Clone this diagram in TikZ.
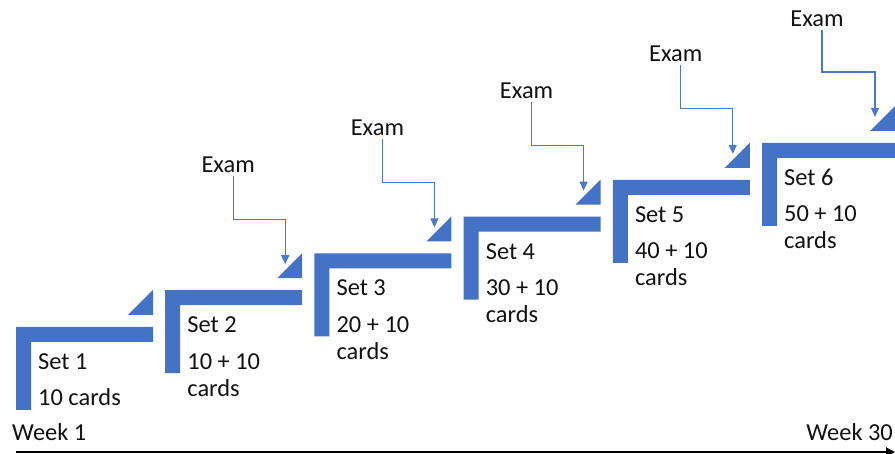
\documentclass[tikz,border=0pt]{standalone}
\usepackage{fontspec}
\setmainfont{Carlito}
\usetikzlibrary{arrows.meta}
\definecolor{stepblue}{HTML}{4472C4}
\definecolor{linkblue}{HTML}{4A78CA}
\definecolor{txt}{HTML}{111111}
\begin{document}
\begin{tikzpicture}[x=1pt,y=-1pt,
  stepbar/.style={fill=stepblue,draw=none},
  lbl/.style={inner sep=0pt,anchor=base west,text=txt,font=\fontsize{24.4}{27}\selectfont},
  examlbl/.style={inner sep=0pt,anchor=base,text=txt,font=\fontsize{24.4}{27}\selectfont},
  examarrow/.style={draw=linkblue,line width=1.1pt,-{Triangle[width=8pt,length=9pt]}},
  axisline/.style={draw=black,line width=1.8pt,-{Triangle[width=9pt,length=9pt]}}]
\useasboundingbox (0,0) rectangle (895,454);
\clip (0,0) rectangle (895,454);
\foreach \i/\second in {0/10 cards,1/10 + 10,2/20 + 10,3/30 + 10,4/40 + 10,5/50 + 10}{
  \pgfmathsetmacro\L{16+149.2*\i}
  \pgfmathsetmacro\T{327-36.8*\i}
  \pgfmathsetmacro\R{ifthenelse(\i==5,895,\L+137)}
  \pgfmathsetmacro\Li{\L+15}
  \pgfmathsetmacro\Tb{\T+15}
  \pgfmathsetmacro\Tv{\T+83}
  \pgfmathsetmacro\Tt{\T-12}
  \pgfmathsetmacro\Ttt{\T-37}
  \pgfmathsetmacro\Rt{\R-25}
  \pgfmathtruncatemacro\n{\i+1}
  % step bracket
  \fill[stepbar] (\L,\Tv) -- (\L,\T) -- (\R,\T) -- (\R,\Tb) -- (\Li,\Tb) -- (\Li,\Tv) -- cycle;
  % triangle
  \coordinate (tri\i) at (\R,\Tt);
  \fill[stepbar] (tri\i) -- (\Rt,\Tt) -- (\R,\Ttt) -- cycle;
  % texts
  \pgfmathsetmacro\Lx{\L+22}
  \pgfmathsetmacro\Ba{\T+42.5}
  \pgfmathsetmacro\Bb{\T+79}
  \pgfmathsetmacro\Bc{\T+106}
  \node[lbl] (set\i) at (\Lx,\Ba) {Set \n};
  \node[lbl] (cnt\i) at (\Lx,\Bb) {\second};
  \ifnum\i>0
    \node[lbl] (crd\i) at (\Lx,\Bc) {cards};
    % exam label and arrow
    \pgfmathsetmacro\Ex{\R-ifthenelse(\i==5,78,74)}
    \pgfmathsetmacro\Ey{\T-ifthenelse(\i==5,116,118)}
    \pgfmathsetmacro\Ax{\R-ifthenelse(\i==5,20,17)}
    \pgfmathsetmacro\Hy{\T-71}
    \pgfmathsetmacro\Ty{\T-26}
    \node[examlbl] (exam\i) at (\Ex,\Ey) {Exam};
    \coordinate (bend\i) at (\Ax,\Hy);
    \coordinate (tip\i) at (\Ax,\Ty);
    \draw[examarrow] ([xshift=5pt,yshift=-3pt]exam\i.south) |- (bend\i) -- (tip\i);
  \fi
}
% time axis
\coordinate (axstart) at (16,452);
\coordinate (axend) at (895,452);
\draw[axisline] (axstart) -- (axend);
\node[lbl] (wk1) at (12,441) {Week 1};
\node[lbl,anchor=base east] (wk30) at (893,441) {Week 30};
\end{tikzpicture}
\end{document}
